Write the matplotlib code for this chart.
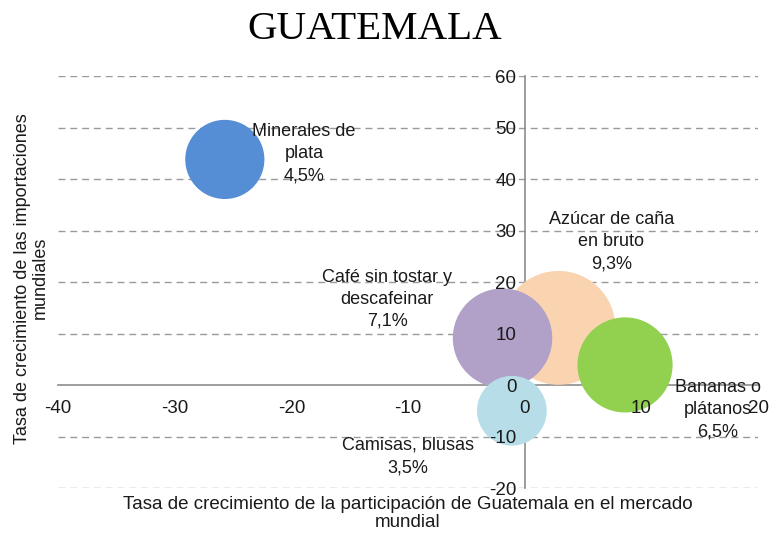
import matplotlib.pyplot as plt
import numpy as np

# Datos del gráfico
productos = ["Minerales de\nplata", "Azúcar de caña\nen bruto", "Café sin tostar y\ndescafeinar",
             "Bananas o\nplátanos", "Camisas, blusas"]
crec_participacion = [-25.7, 2.9, -1.9, 8.6, -1.1]   # eje x
crec_importaciones = [43.8, 11.1, 9.1, 3.9, -5.0]    # eje y
participacion = [4.5, 9.3, 7.1, 6.5, 3.5]            # tamaño de burbuja (%)
colores = ["#558ED5", "#FAD3B0", "#B1A0C7", "#92D050", "#B7DEE8"]

# desplazamiento de las etiquetas respecto al centro de la burbuja (puntos)
offsets = [(57, 4), (38, 62), (-83, 28), (67, -32), (-75, -33)]

plt.rcParams["font.family"] = ["Liberation Sans", "DejaVu Sans"]
plt.rcParams["axes.unicode_minus"] = False

fig = plt.figure(figsize=(7.71, 5.33), dpi=100)
ax = fig.add_axes([0.0752, 0.0844, 0.908, 0.773])

sizes = np.array(participacion) * 722
ax.scatter(crec_participacion, crec_importaciones, s=sizes, c=colores, edgecolors="none", zorder=1)

for nombre, x, y, p, off in zip(productos, crec_participacion, crec_importaciones, participacion, offsets):
    ax.annotate(f"{nombre}\n{p:.1f}%".replace(".", ","), xy=(x, y), xytext=off,
                textcoords="offset points", ha="center", va="center",
                fontsize=13, color="#1a1a1a", linespacing=1.4, zorder=3)

ax.set_xlim(-40, 20)
ax.set_ylim(-20, 60)
ax.set_xticks(np.arange(-40, 21, 10))
ax.set_yticks(np.arange(-20, 61, 10))
ax.tick_params(length=0, labelsize=13.5, colors="#1a1a1a")
ax.tick_params(axis="x", pad=11)
ax.tick_params(axis="y", pad=6)

# líneas de guía punteadas detrás de las burbujas
for yv in np.arange(-20, 61, 10):
    if yv != 0:
        ax.axhline(yv, color="#9a9a9a", linestyle=(0, (5, 3.5)), linewidth=1, zorder=0)

ax.spines["left"].set_position(("data", 0))
ax.spines["bottom"].set_position(("data", 0))
for side in ["right", "top"]:
    ax.spines[side].set_visible(False)
for side in ["left", "bottom"]:
    ax.spines[side].set_color("#8c8c8c")
    ax.spines[side].set_linewidth(1.2)
    ax.spines[side].set_zorder(0.5)

fig.text(0.4865, 0.945, "GUATEMALA", ha="center", va="center", fontsize=29.5,
         family=["Liberation Serif", "DejaVu Serif"])
fig.text(0.529, 0.036, "Tasa de crecimiento de la participación de Guatemala en el mercado\nmundial",
         ha="center", va="center", fontsize=13.5, linespacing=1.05, color="#1a1a1a")
fig.text(0.0405, 0.478, "Tasa de crecimiento de las importaciones\nmundiales",
         ha="center", va="center", rotation=90, fontsize=13, linespacing=1.05, color="#1a1a1a")

fig.savefig("out.png", dpi=100)
